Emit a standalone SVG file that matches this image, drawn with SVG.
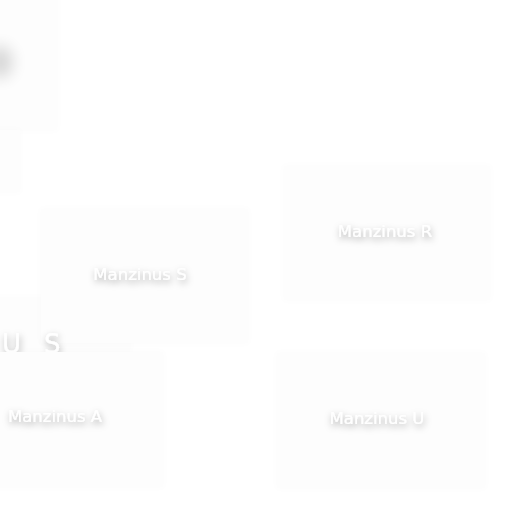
<svg xmlns="http://www.w3.org/2000/svg" width="512" height="512" viewBox="0 0 512 512">
<defs>
<filter id="ts" x="-30%" y="-100%" width="160%" height="300%">
<feDropShadow dx="1" dy="3" stdDeviation="3.5" flood-color="#000" flood-opacity="0.35"/>
</filter>
<filter id="bs" x="-10%" y="-10%" width="120%" height="120%">
<feDropShadow dx="0" dy="0" stdDeviation="3" flood-color="#000" flood-opacity="0.015"/>
</filter>
<filter id="blob" x="-150%" y="-150%" width="400%" height="400%">
<feGaussianBlur stdDeviation="8"/>
</filter>
</defs>
<style>
.box{fill:#fdfdfd;filter:url(#bs)}
.lbl{font-family:"DejaVu Sans",Verdana,sans-serif;font-size:16.5px;fill:#fff;text-anchor:middle;filter:url(#ts)}
.big{font-family:"DejaVu Sans",Verdana,sans-serif;font-size:26px;fill:#fff;filter:url(#ts)}
</style>
<rect width="512" height="512" fill="#fff"/>
<g id="bg-shapes">
<rect class="box" x="-10" y="-10" width="67" height="140"/>
<rect class="box" x="-10" y="130" width="30" height="62"/>
<rect class="box" x="-10" y="298" width="140" height="54"/>
<ellipse cx="0" cy="62" rx="12" ry="16" fill="#000" opacity="0.16" filter="url(#blob)"/>
</g>
<g id="connectors"></g>
<g id="node-r">
<rect class="box" x="284" y="166" width="206" height="134"/>
<text class="lbl" x="385" y="237">Manzinus R</text>
</g>
<g id="node-s">
<rect class="box" x="41" y="209" width="207" height="134"/>
<text class="lbl" x="140" y="280">Manzinus S</text>
</g>
<g id="node-us">
<text class="big"><tspan x="2" y="353">U</tspan><tspan x="44" y="353">S</tspan></text>
</g>
<g id="node-a">
<rect class="box" x="-50" y="352" width="213" height="135"/>
<text class="lbl" x="55" y="422">Manzinus A</text>
</g>
<g id="node-u">
<rect class="box" x="277" y="353" width="208" height="135"/>
<text class="lbl" x="377" y="424">Manzinus U</text>
</g>
</svg>
